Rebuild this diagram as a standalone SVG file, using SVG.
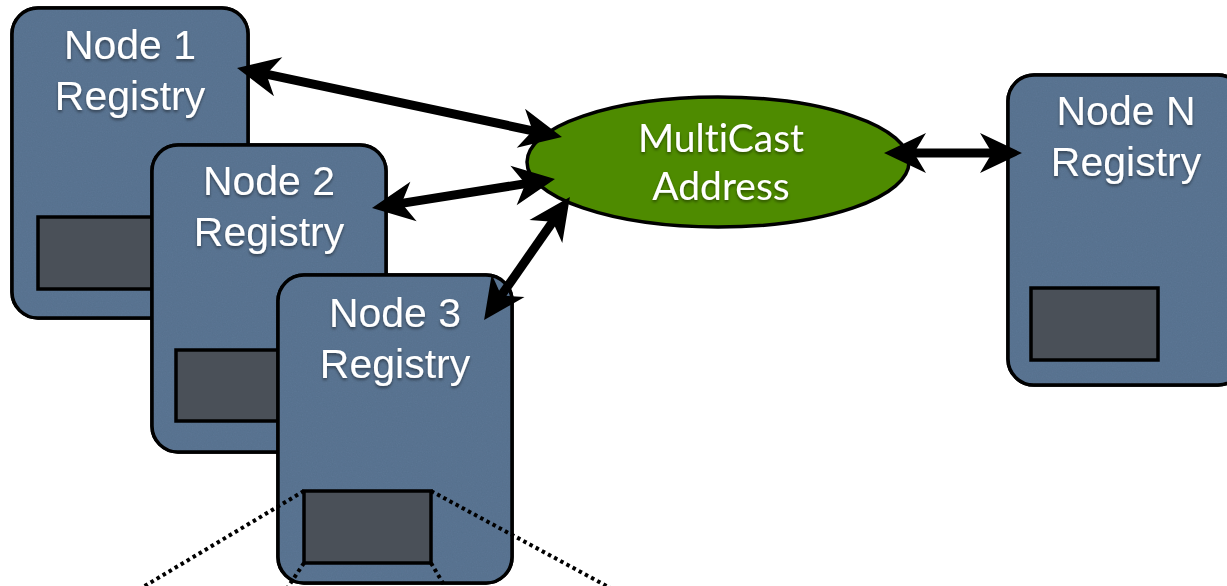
<svg xmlns="http://www.w3.org/2000/svg" width="1227" height="586" viewBox="0 0 1227 586">
  <defs>
    <style>
      .box { fill: #5b7694; stroke: #000; stroke-width: 3.5; filter: url(#grain); }
      .slot { fill: #4a5058; stroke: #000; stroke-width: 3.5; }
      .label { font-family: "Liberation Sans", Arial, sans-serif; font-size: 41px; fill: #fff; text-anchor: middle; filter: url(#shadow); }
      .hub-label { font-family: Lato, "Open Sans", sans-serif; font-size: 39px; fill: #fff; text-anchor: middle; font-variant-ligatures: none; filter: url(#shadow); }
      .link { fill: none; stroke: #000; stroke-width: 9; marker-start: url(#head); marker-end: url(#head); }
      .zoom { fill: none; stroke: #000; stroke-width: 4; stroke-dasharray: 3.5 3.5; }
    </style>
    <!-- paper-like grain for the registry boxes -->
    <filter id="grain" x="-5%" y="-5%" width="110%" height="110%">
      <feTurbulence type="fractalNoise" baseFrequency="0.8" numOctaves="2" seed="3" result="noise"/>
      <feColorMatrix in="noise" type="matrix" values="0 0 0 0 0  0 0 0 0 0  0 0 0 0 0  0 0 0 0.12 0" result="speck"/>
      <feComposite in="speck" in2="SourceGraphic" operator="atop" result="grained"/>
      <feMerge>
        <feMergeNode in="SourceGraphic"/>
        <feMergeNode in="grained"/>
      </feMerge>
    </filter>
    <filter id="shadow" x="-10%" y="-20%" width="120%" height="150%">
      <feDropShadow dx="0" dy="2" stdDeviation="1.5" flood-color="#000" flood-opacity="0.45"/>
    </filter>
    <!-- notched arrowhead, tip 25px beyond the line end -->
    <marker id="head" viewBox="-20 -22 50 44" refX="0" refY="0" markerWidth="50" markerHeight="44" markerUnits="userSpaceOnUse" orient="auto-start-reverse">
      <path d="M25,0 L-17,-20 L-5,0 L-17,20 Z" fill="#000"/>
    </marker>
  </defs>

  <g id="node-1">
    <rect class="box" x="12" y="8" width="236" height="310" rx="26"/>
    <rect class="slot" x="38" y="217" width="128" height="72"/>
    <text class="label" x="130" y="59">Node 1</text>
    <text class="label" x="130" y="110">Registry</text>
  </g>

  <g id="node-2">
    <rect class="box" x="152" y="145" width="234" height="307" rx="26"/>
    <rect class="slot" x="176" y="350" width="128" height="71"/>
    <text class="label" x="269" y="195">Node 2</text>
    <text class="label" x="269" y="246">Registry</text>
  </g>

  <g id="node-3">
    <rect class="box" x="278" y="275" width="234" height="308" rx="26"/>
    <rect class="slot" x="304" y="491" width="127" height="72"/>
    <text class="label" x="395" y="327">Node 3</text>
    <text class="label" x="395" y="378">Registry</text>
  </g>

  <g id="node-n">
    <rect class="box" x="1008" y="75" width="236" height="310" rx="26"/>
    <rect class="slot" x="1031" y="288" width="127" height="72"/>
    <text class="label" x="1126" y="125">Node N</text>
    <text class="label" x="1126" y="176">Registry</text>
  </g>

  <g id="multicast">
    <ellipse cx="718" cy="162" rx="191" ry="65" fill="#4e8b00" stroke="#000" stroke-width="3.5"/>
    <text class="hub-label" x="721" y="152">MultiCast</text>
    <text class="hub-label" x="721" y="200">Address</text>
  </g>

  <g id="connectors">
    <path class="link" d="M261.5,73.2 L537.5,131.8"/>
    <path class="link" d="M396.7,204.1 L530.3,182.9"/>
    <path class="link" d="M498.4,299.6 L555.6,217.6"/>
    <path class="link" d="M909,153 L997,153"/>
    <path class="zoom" d="M304,491 L138,590"/>
    <path class="zoom" d="M304,563 L286,590"/>
    <path class="zoom" d="M431,491 L614,590"/>
    <path class="zoom" d="M431,563 L447,590"/>
  </g>
</svg>
